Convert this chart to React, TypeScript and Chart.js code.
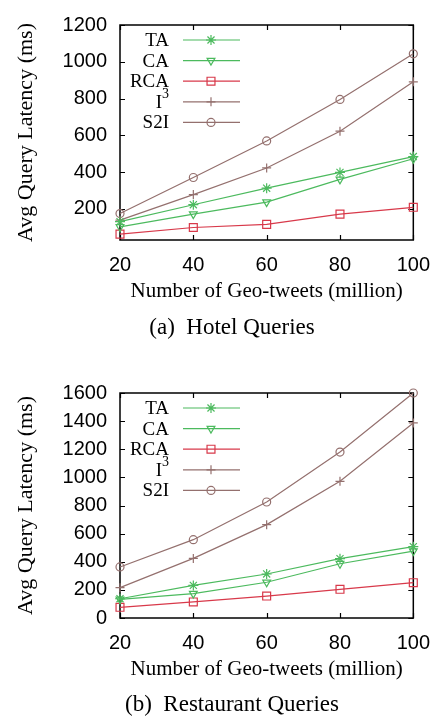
import { useEffect, useRef } from "react";
import { Chart, registerables } from "chart.js";
import { drawPoint } from "chart.js/helpers";

Chart.register(...registerables);

const xValues = [20, 40, 60, 80, 100];
const xTicks = [20, 40, 60, 80, 100];
const seriesLabels = ["TA", "CA", "RCA", "I³", "S2I"];

const hotelTA = [130, 222, 312, 398, 484];
const hotelCA = [101, 171, 236, 360, 472];
const hotelRCA = [62, 98, 115, 171, 208];
const hotelI3 = [138, 277, 422, 622, 891];
const hotelS2I = [174, 370, 569, 795, 1043];
const hotelYTicks = [200, 400, 600, 800, 1000, 1200];

const restTA = [137, 232, 313, 422, 507];
const restCA = [133, 173, 254, 386, 476];
const restRCA = [76, 114, 156, 204, 251];
const restI3 = [216, 424, 664, 972, 1387];
const restS2I = [363, 557, 825, 1180, 1600];
const restYTicks = [0, 200, 400, 600, 800, 1000, 1200, 1400, 1600];

const GREEN = "#4cba5e";
const RED = "#d8394a";
const BROWN = "#94706e";

const styles = [
  { color: GREEN, pointStyle: "star", radius: 5, rotation: 0 },
  { color: GREEN, pointStyle: "triangle", radius: 4.5, rotation: 180 },
  { color: RED, pointStyle: "rect", radius: 5.6, rotation: 0 },
  { color: BROWN, pointStyle: "cross", radius: 4.5, rotation: 0 },
  { color: BROWN, pointStyle: "circle", radius: 4, rotation: 0 },
];

const SERIF = "'Liberation Serif', 'Times New Roman', serif";
const SANS = "'Liberation Sans', Arial, sans-serif";

const framePlugin = {
  id: "frame",
  beforeDatasetsDraw(chart: any) {
    const { ctx, chartArea } = chart;
    const { left, right, top, bottom } = chartArea;
    ctx.save();
    ctx.strokeStyle = "#000";
    ctx.lineWidth = 1.5;
    ctx.strokeRect(left, top, right - left, bottom - top);
    ctx.lineWidth = 1.2;
    const ys = chart.scales.y;
    const xs = chart.scales.x;
    const tl = 5;
    ctx.beginPath();
    ys.ticks.forEach((t: any) => {
      const py = Math.round(ys.getPixelForValue(t.value)) + 0.5;
      ctx.moveTo(left, py);
      ctx.lineTo(left + tl, py);
      ctx.moveTo(right, py);
      ctx.lineTo(right - tl, py);
    });
    xs.ticks.forEach((t: any) => {
      const px = Math.round(xs.getPixelForValue(t.value)) + 0.5;
      ctx.moveTo(px, bottom);
      ctx.lineTo(px, bottom - tl);
      ctx.moveTo(px, top);
      ctx.lineTo(px, top + tl);
    });
    ctx.stroke();
    ctx.restore();
  },
  afterDraw(chart: any, _args: any, opts: any) {
    const { ctx, chartArea } = chart;
    ctx.save();
    // legend
    chart.data.datasets.forEach((ds: any, i: number) => {
      const y = chartArea.top + 15 + i * 20.6;
      const tx = chartArea.left + 49;
      ctx.fillStyle = "#000";
      ctx.textBaseline = "middle";
      ctx.textAlign = "right";
      if (ds.label === "I³") {
        ctx.font = `14px ${SERIF}`;
        ctx.fillText("3", tx, y - 7);
        const w = ctx.measureText("3").width;
        ctx.font = `19px ${SERIF}`;
        ctx.fillText("I", tx - w, y + 1);
      } else {
        ctx.font = `19px ${SERIF}`;
        ctx.fillText(ds.label, tx, y + 1);
      }
      ctx.strokeStyle = ds.borderColor;
      ctx.lineWidth = 1.2;
      ctx.beginPath();
      ctx.moveTo(chartArea.left + 63, y);
      ctx.lineTo(chartArea.left + 120, y);
      ctx.stroke();
      ctx.fillStyle = "rgba(0,0,0,0)";
      drawPoint(
        ctx,
        { pointStyle: ds.pointStyle, radius: ds.pointRadius, rotation: ds.pointRotation, borderWidth: 1.2 },
        chartArea.left + 91,
        y
      );
    });
    // caption
    ctx.fillStyle = "#000";
    ctx.font = `23px ${SERIF}`;
    ctx.textAlign = "center";
    ctx.textBaseline = "middle";
    ctx.fillText(opts.text, 232, chartArea.bottom + opts.offset);
    ctx.restore();
  },
};

type PanelProps = {
  height: number;
  padTop: number;
  padBottom: number;
  yMin: number;
  yMax: number;
  yTicks: number[];
  series: number[][];
  caption: string;
  captionOffset: number;
};

function Panel(p: PanelProps) {
  const ref = useRef<HTMLCanvasElement>(null);
  useEffect(() => {
    if (!ref.current) return;
    const chart = new Chart(ref.current, {
      type: "line",
      data: {
        datasets: p.series.map((vals, i) => ({
          label: seriesLabels[i],
          data: vals.map((v, j) => ({ x: xValues[j], y: v })),
          borderColor: styles[i].color,
          backgroundColor: "rgba(0,0,0,0)",
          borderWidth: 1.2,
          pointStyle: styles[i].pointStyle as any,
          pointRadius: styles[i].radius,
          pointRotation: styles[i].rotation,
          pointBorderColor: styles[i].color,
          pointBackgroundColor: "rgba(0,0,0,0)",
          pointBorderWidth: 1.2,
          tension: 0,
          clip: false as any,
        })),
      },
      options: {
        responsive: false,
        animation: false,
        events: [],
        layout: { padding: { left: 0, right: 21, top: p.padTop, bottom: p.padBottom } },
        plugins: {
          legend: { display: false },
          tooltip: { enabled: false },
          frame: { text: p.caption, offset: p.captionOffset },
        } as any,
        scales: {
          x: {
            type: "linear",
            min: 20,
            max: 100,
            grid: { display: false, drawTicks: false },
            border: { display: false },
            afterBuildTicks: (s: any) => {
              s.ticks = xTicks.map((v) => ({ value: v }));
            },
            afterFit: (s: any) => {
              s.height = 76;
            },
            ticks: {
              color: "#000",
              padding: 13,
              maxRotation: 0,
              autoSkip: false,
              callback: (v: any) => String(v),
              font: { family: SANS, size: 20 },
            },
            title: {
              display: true,
              text: "Number of Geo-tweets (million)",
              color: "#000",
              font: { family: SERIF, size: 21 },
              padding: { top: 0, bottom: 12 },
            },
          },
          y: {
            type: "linear",
            min: p.yMin,
            max: p.yMax,
            grid: { display: false, drawTicks: false },
            border: { display: false },
            afterBuildTicks: (s: any) => {
              s.ticks = p.yTicks.map((v) => ({ value: v }));
            },
            afterFit: (s: any) => {
              s.width = 120;
            },
            ticks: {
              color: "#000",
              padding: 13,
              autoSkip: false,
              callback: (v: any) => String(v),
              font: { family: SANS, size: 20 },
            },
            title: {
              display: true,
              text: "Avg Query Latency (ms)",
              color: "#000",
              font: { family: SERIF, size: 22 },
              padding: { top: 13, bottom: 0 },
            },
          },
        },
      },
      plugins: [framePlugin as any],
    });
    return () => chart.destroy();
  }, []);
  return <canvas ref={ref} width={443} height={p.height} style={{ display: "block" }} />;
}

export default function App() {
  return (
    <div style={{ position: "fixed", left: 0, top: 0, width: 443, height: 717, background: "#fff" }}>
      <Panel
        height={358}
        padTop={14}
        padBottom={42}
        yMin={30}
        yMax={1200}
        yTicks={hotelYTicks}
        series={[hotelTA, hotelCA, hotelRCA, hotelI3, hotelS2I]}
        caption="(a)  Hotel Queries"
        captionOffset={88}
      />
      <Panel
        height={359}
        padTop={35}
        padBottom={23}
        yMin={0}
        yMax={1600}
        yTicks={restYTicks}
        series={[restTA, restCA, restRCA, restI3, restS2I]}
        caption="(b)  Restaurant Queries"
        captionOffset={87}
      />
    </div>
  );
}
